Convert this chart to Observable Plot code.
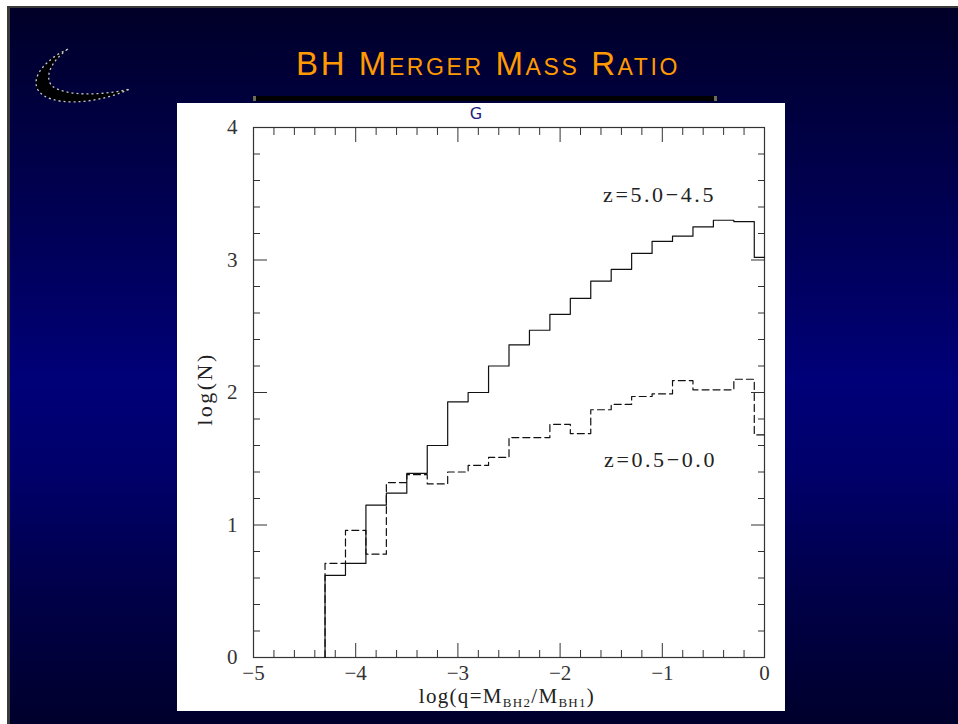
<!DOCTYPE html>
<html><head><meta charset="utf-8">
<script src="https://cdn.jsdelivr.net/npm/d3@7"></script>
<script src="https://cdn.jsdelivr.net/npm/@observablehq/plot@0.6"></script>
<style>
html,body{margin:0;padding:0;background:#fff;}
#page{position:relative;width:958px;height:724px;overflow:hidden;background:#fff;}
#slide{position:absolute;left:7px;top:6px;right:0;bottom:0;border-left:3px solid #3a3a3a;border-top:2px solid #3a3a3a;
  background:linear-gradient(to bottom,#000028 0%,#000040 15%,#00005c 35%,#000078 52%,#00006a 65%,#000048 82%,#00002c 100%);}
#title{position:absolute;left:488px;top:45px;transform:translateX(-50%);white-space:nowrap;
  font-family:"Liberation Sans","Arial",sans-serif;
  font-variant:small-caps;font-size:33px;color:#ff9a00;letter-spacing:2.6px;}
#bar{position:absolute;left:253px;top:96px;width:458px;height:5px;background:#000;border-left:3px solid #6e6c55;border-right:3px solid #6e6c55;}
#chart{position:absolute;left:177px;top:103px;}
#g{position:absolute;left:476px;top:104px;transform:translateX(-50%);font-family:"DejaVu Sans",sans-serif;font-size:16px;color:#202080;}
#logo{position:absolute;left:20px;top:30px;}
</style></head>
<body><div id="page"><div id="slide"></div>
<svg id="logo" width="130" height="90" viewBox="0 0 130 90">
  <path d="M48,19 C28,28 10,46 18,60 C28,76 72,76 110,59 C80,66 45,66 32,56 C24,47 31,31 48,19 Z" fill="#000" stroke="#c8c8c8" stroke-width="1.3" stroke-dasharray="2,3"/>
</svg>
<div id="title">BH Merger Mass Ratio</div>
<div id="bar"></div>
<div id="chart"></div>
<div id="g">G</div>
</div>
<script>
// ---- data ----
const binEdges = [-4.3,-4.1,-3.9,-3.7,-3.5,-3.3,-3.1,-2.9,-2.7,-2.5,-2.3,-2.1,-1.9,-1.7,-1.5,-1.3,-1.1,-0.9,-0.7,-0.5,-0.3,-0.1,0];
const highZ = [0.62,0.71,1.15,1.24,1.39,1.60,1.93,2.00,2.20,2.36,2.47,2.59,2.71,2.84,2.93,3.05,3.14,3.18,3.25,3.30,3.29,3.02];
const lowZ  = [0.71,0.96,0.78,1.32,1.38,1.31,1.40,1.45,1.51,1.66,1.66,1.76,1.69,1.87,1.91,1.97,1.99,2.09,2.02,2.02,2.10,1.68];
const seriesLabels = ["z=5.0\u22124.5", "z=0.5\u22120.0"];
const labelX = [-1.58, -1.57];
const labelY = [3.49, 1.49];
const xTicks = [-5,-4,-3,-2,-1,0];
const yTicks = [0,1,2,3,4];
const minorStep = 0.2;

const toSteps = vals => [{x: binEdges[0], y: 0}, ...vals.map((v, i) => ({x: binEdges[i + 1], y: v}))];
const highPts = toSteps(highZ);
const lowPts = toSteps(lowZ);
const annotations = seriesLabels.map((t, i) => ({t, x: labelX[i], y: labelY[i]}));
const xMinor = d3.range(-5, 0.0001, minorStep).map(v => +v.toFixed(2)).filter(v => !xTicks.includes(v));
const yMinor = d3.range(0, 4.0001, minorStep).map(v => +v.toFixed(2)).filter(v => !yTicks.includes(v));
const fmt = d => d === 0 ? "0" : (d < 0 ? "\u2212" : "") + Math.abs(d);

const ink = "#333";
const chart = Plot.plot({
  width: 608, height: 608,
  marginLeft: 76, marginRight: 21, marginTop: 24, marginBottom: 54,
  style: {background: "white", fontFamily: "'Liberation Serif', serif", fontSize: "22px", color: ink},
  x: {domain: [-5, 0], label: null},
  y: {domain: [0, 4], label: null},
  marks: [
    Plot.axisX({ticks: xTicks, anchor: "bottom", tickSize: -14, tickPadding: 22, tickFormat: fmt, label: null, fontSize: 21}),
    Plot.axisX({ticks: xMinor, anchor: "bottom", tickSize: -7, fill: "none", label: null}),
    Plot.axisX({ticks: xTicks, anchor: "top", tickSize: -14, fill: "none", label: null}),
    Plot.axisX({ticks: xMinor, anchor: "top", tickSize: -7, fill: "none", label: null}),
    Plot.axisY({ticks: yTicks, anchor: "left", tickSize: -14, tickPadding: 30, tickFormat: fmt, label: null, fontSize: 21}),
    Plot.axisY({ticks: yMinor, anchor: "left", tickSize: -7, fill: "none", label: null}),
    Plot.axisY({ticks: yTicks, anchor: "right", tickSize: -14, fill: "none", label: null}),
    Plot.axisY({ticks: yMinor, anchor: "right", tickSize: -7, fill: "none", label: null}),
    Plot.frame({stroke: ink, strokeWidth: 1.2}),
    Plot.line(highPts, {x: "x", y: "y", curve: "step-before", stroke: "#111", strokeWidth: 1.2}),
    Plot.line(lowPts, {x: "x", y: "y", curve: "step-before", stroke: "#111", strokeWidth: 1.2, strokeDasharray: "7,4"}),
    Plot.text(annotations, {x: "x", y: "y", text: "t", textAnchor: "start", fontSize: 22, fill: "#222"})
  ]
});
document.getElementById("chart").appendChild(chart);

const svg = d3.select(chart);
svg.selectAll("text").filter(function() { return this.textContent.startsWith("z="); }).attr("letter-spacing", "2.6px");
// x-axis label with subscripts
const xl = svg.append("text").attr("x", 330).attr("y", 600).attr("text-anchor", "middle")
  .attr("font-family", "'Liberation Serif', serif").attr("font-size", 21).attr("fill", "#222").attr("letter-spacing", "1.3px");
xl.append("tspan").text("log(q=M");
xl.append("tspan").attr("font-size", 13).attr("dy", 4).text("BH2");
xl.append("tspan").attr("dy", -4).text("/M");
xl.append("tspan").attr("font-size", 13).attr("dy", 4).text("BH1");
xl.append("tspan").attr("dy", -4).text(")");
// y-axis label
svg.append("text").attr("transform", "translate(35,286) rotate(-90)").attr("text-anchor", "middle")
  .attr("font-family", "'Liberation Serif', serif").attr("font-size", 22).attr("fill", "#222").attr("letter-spacing", "2.5px")
  .text("log(N)");
</script>
</body></html>
